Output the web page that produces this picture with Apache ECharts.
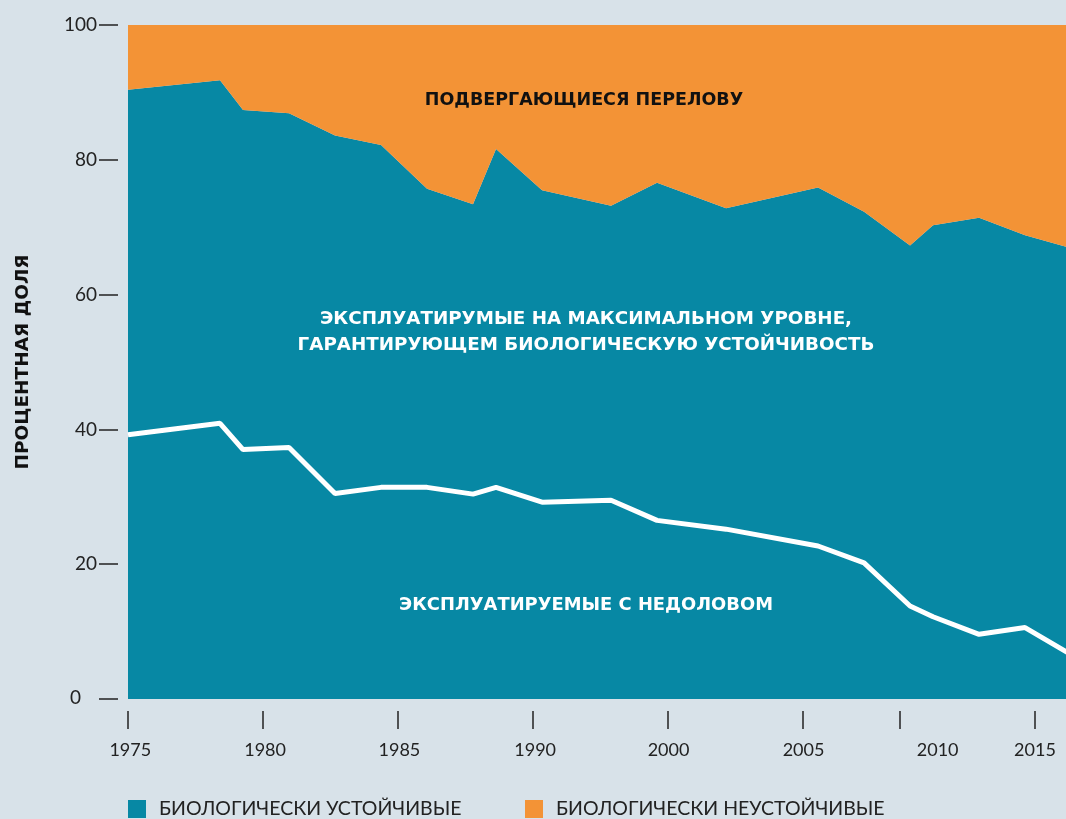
<!DOCTYPE html>
<html>
<head>
<meta charset="utf-8">
<script src="https://cdn.jsdelivr.net/npm/echarts@6/dist/echarts.min.js"></script>
<style>
  html, body { margin: 0; padding: 0; background: #d8e2e9; }
  #chart { width: 1066px; height: 819px; }
</style>
</head>
<body>
<div id="chart"></div>
<script>
// годы наблюдений
const years = [1974, 1978, 1979, 1981, 1983, 1985, 1987, 1989, 1990, 1992,
               1995, 1997, 2000, 2004, 2006, 2008, 2009, 2011, 2013, 2015];
// биологически устойчивые запасы (верхняя граница бирюзовой области), %
const sustainable = [90.4, 91.8, 87.4, 86.9, 83.6, 82.2, 75.7, 73.4, 81.6, 75.5,
                     73.2, 76.6, 72.8, 75.9, 72.3, 67.3, 70.3, 71.4, 68.8, 66.9];
// эксплуатируемые с недоловом, %
const underfished = [39.2, 40.9, 37.0, 37.3, 30.5, 31.4, 31.4, 30.4, 31.4, 29.2,
                     29.5, 26.5, 25.2, 22.7, 20.2, 13.8, 12.2, 9.6, 10.6, 6.6];

// подписи оси X (как на исходном рисунке)
const xTickAt = [1974, 1979.87, 1985.74, 1991.61, 1997.48, 2003.35, 2007.57, 2013.43];
const xLabelAt = [1974.1, 1979.96, 1985.8, 1991.7, 1997.5, 2003.37, 2009.2, 2013.43];
const xLabels = ['1975', '1980', '1985', '1990', '2000', '2005', '2010', '2015'];
const yTicks = [0, 20, 40, 60, 80, 100];

const TEAL = '#0788a4';
const ORANGE = '#f39336';
const BOLD = '"DejaVu Sans", sans-serif';
const LIGHT = 'Lato, "Noto Sans", sans-serif';
const X_MIN = 1974, X_MAX = 2014.78;

const chart = echarts.init(document.getElementById('chart'));

const legendText = { color: '#222', fontFamily: LIGHT, fontSize: 19.5, padding: [0, 0, 0, 8] };

const option = {
    backgroundColor: '#d8e2e9',
    animation: false,
    grid: [
        { left: 128, right: 0, top: 25, bottom: 120 },
        // отдельная сетка только для засечек оси X (ниже области графика)
        { left: 128, right: 0, top: 25, bottom: 108 }
    ],
    xAxis: [
        {
            type: 'value', gridIndex: 0, min: X_MIN, max: X_MAX,
            axisLine: { show: false }, axisTick: { show: false },
            axisLabel: { show: false }, splitLine: { show: false }
        },
        {
            type: 'value', gridIndex: 1, min: X_MIN, max: X_MAX,
            axisLine: { show: false },
            splitLine: { show: false },
            axisTick: {
                show: true,
                length: 18,
                customValues: xTickAt,
                lineStyle: { color: '#222', width: 1.5 }
            },
            axisLabel: {
                customValues: xLabelAt,
                margin: 30,
                color: '#222',
                fontFamily: LIGHT,
                fontSize: 18,
                formatter: v => {
                    const i = xLabelAt.findIndex(p => Math.abs(p - v) < 0.01);
                    return i >= 0 ? xLabels[i] : '';
                }
            }
        }
    ],
    yAxis: [
        {
            type: 'value', gridIndex: 0,
            min: 0,
            max: 100,
            offset: 10,
            axisLine: { show: false },
            splitLine: { show: false },
            axisTick: {
                show: true,
                length: 19,
                customValues: yTicks,
                lineStyle: { color: '#222', width: 1.5 }
            },
            axisLabel: {
                customValues: yTicks,
                margin: 21,
                color: '#222',
                fontFamily: LIGHT,
                fontSize: 19,
                formatter: v => v === 0 ? '{zero|0}' : String(v),
                rich: {
                    zero: { color: '#222', fontFamily: LIGHT, fontSize: 19, padding: [0, 16, 3, 0] }
                }
            }
        },
        {
            type: 'value', gridIndex: 1, min: 0, max: 100, show: false
        }
    ],
    legend: [
        {
            data: ['БИОЛОГИЧЕСКИ УСТОЙЧИВЫЕ'],
            left: 128, top: 799, padding: 0,
            icon: 'rect', itemWidth: 18, itemHeight: 18,
            textStyle: legendText
        },
        {
            data: ['БИОЛОГИЧЕСКИ НЕУСТОЙЧИВЫЕ'],
            left: 525, top: 799, padding: 0,
            icon: 'rect', itemWidth: 18, itemHeight: 18,
            textStyle: legendText
        }
    ],
    series: [
        {
            name: 'БИОЛОГИЧЕСКИ УСТОЙЧИВЫЕ',
            type: 'line',
            data: years.map((y, i) => [y, sustainable[i]]),
            showSymbol: false,
            lineStyle: { width: 0 },
            itemStyle: { color: TEAL },
            areaStyle: { color: TEAL, opacity: 1 }
        },
        {
            // перелов: область от границы устойчивости до 100 %
            name: 'БИОЛОГИЧЕСКИ НЕУСТОЙЧИВЫЕ',
            type: 'line',
            data: years.map((y, i) => [y, sustainable[i]]),
            showSymbol: false,
            lineStyle: { width: 0 },
            itemStyle: { color: ORANGE },
            areaStyle: { color: ORANGE, opacity: 1, origin: 'end' }
        },
        {
            name: 'ЭКСПЛУАТИРУЕМЫЕ С НЕДОЛОВОМ',
            type: 'line',
            data: years.map((y, i) => [y, underfished[i]]),
            showSymbol: false,
            z: 5,
            lineStyle: { color: '#fff', width: 5 },
            itemStyle: { color: '#fff' }
        }
    ],
    graphic: [
        {
            type: 'text', x: 23, y: 362, rotation: Math.PI / 2, z: 100,
            style: { text: 'ПРОЦЕНТНАЯ ДОЛЯ', align: 'center', verticalAlign: 'middle',
                     fontFamily: BOLD, fontWeight: 'bold', fontSize: 18.5, fill: '#111' }
        },
        {
            type: 'text', x: 584, y: 100, z: 100,
            style: { text: 'ПОДВЕРГАЮЩИЕСЯ ПЕРЕЛОВУ', align: 'center', verticalAlign: 'middle',
                     fontFamily: BOLD, fontWeight: 'bold', fontSize: 17.5, fill: '#111' }
        },
        {
            type: 'text', x: 586, y: 332, z: 100,
            style: { text: 'ЭКСПЛУАТИРУМЫЕ НА МАКСИМАЛЬНОМ УРОВНЕ,\nГАРАНТИРУЮЩЕМ БИОЛОГИЧЕСКУЮ УСТОЙЧИВОСТЬ',
                     align: 'center', verticalAlign: 'middle', lineHeight: 26,
                     fontFamily: BOLD, fontWeight: 'bold', fontSize: 18.3, fill: '#fff' }
        },
        {
            type: 'text', x: 586, y: 605, z: 100,
            style: { text: 'ЭКСПЛУАТИРУЕМЫЕ С НЕДОЛОВОМ', align: 'center', verticalAlign: 'middle',
                     fontFamily: BOLD, fontWeight: 'bold', fontSize: 17.9, fill: '#fff' }
        }
    ]
};

chart.setOption(option);
</script>
</body>
</html>
